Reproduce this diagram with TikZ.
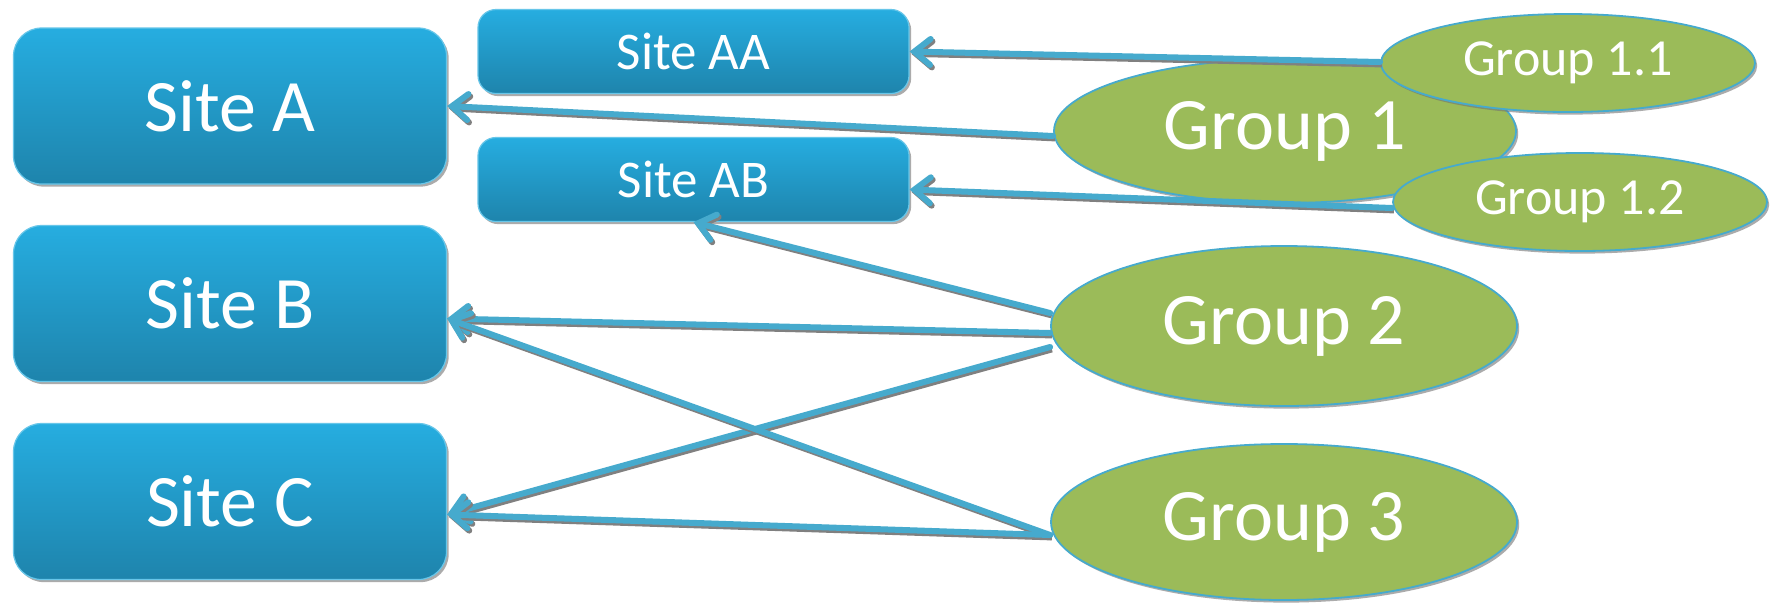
\documentclass[tikz,border=0pt]{standalone}
\usepackage{fontspec}
\setmainfont{Carlito}
\usetikzlibrary{shapes.geometric,arrows.meta,shadows}
\definecolor{boxtop}{RGB}{38,173,224}
\definecolor{boxbot}{RGB}{30,132,172}
\definecolor{grp}{RGB}{155,187,89}
\definecolor{lineblue}{RGB}{70,170,205}
\tikzset{
  shad/.style={drop shadow={shadow xshift=1.1pt,shadow yshift=-1.3pt,fill=black!55,opacity=0.6}},
  bigsite/.style={rectangle, rounded corners=14pt, top color=boxtop, bottom color=boxbot,
    draw=boxtop!70!white, line width=0.6pt, shad, text=white,
    minimum width=216.5pt, minimum height=78pt, inner sep=0pt,
    font=\fontsize{37}{40}\selectfont},
  smallsite/.style={rectangle, rounded corners=9pt, top color=boxtop, bottom color=boxbot,
    draw=boxtop!70!white, line width=0.6pt, shad, text=white,
    minimum width=215.5pt, minimum height=42pt, inner sep=0pt,
    font=\fontsize{26.5}{29}\selectfont},
  biggrp/.style={ellipse, fill=grp, draw=lineblue, line width=0.9pt, shad, text=white,
    minimum width=233pt, minimum height=78pt, inner sep=0pt,
    font=\fontsize{37}{40}\selectfont},
  smallgrp/.style={ellipse, fill=grp, draw=lineblue, line width=0.9pt, shad, text=white,
    minimum width=187pt, minimum height=49pt, inner sep=0pt,
    font=\fontsize{26}{29}\selectfont},
  conn/.style={draw=lineblue, line width=3pt, line cap=round,
    -{Straight Barb[length=8pt,width=13pt,line cap=round]},
    preaction={draw=black!50, line width=3pt, transform canvas={xshift=0.9pt,yshift=-1.2pt}}}
}
\begin{document}
\begin{tikzpicture}[x=0.5pt,y=-0.5pt]
\useasboundingbox[fill=white] (0,0) rectangle (1771,602);
% sites
\node[bigsite] (sa) at (230,106) {Site A};
\node[bigsite] (sb) at (230,303.5) {Site B};
\node[bigsite] (sc) at (230,501.5) {Site C};
\node[smallsite] (saa) at (693.5,51.5) {Site AA};
\node[smallsite] (sab) at (693.5,179.5) {Site AB};
% groups
\node[biggrp, minimum height=72pt, minimum width=231pt] (g1) at (1285,131) {Group 1};
\node[biggrp, minimum height=80pt] (g2) at (1284,326) {Group 2};
\node[biggrp] (g3) at (1284,522) {Group 3};
% connectors
\draw[conn] ([yshift=-2.5pt]g1.west) -- (sa.east);
\draw[conn] ([yshift=6.5pt]g2.west) -- (sab.south);
\draw[conn] ([yshift=-3.5pt]g2.west) -- ([yshift=-7.5pt]sb.east);
\draw[conn] ([yshift=-10.5pt]g2.west) -- ([yshift=-6.5pt]sc.east);
\draw[conn] ([yshift=-6.5pt]g3.west) -- ([yshift=-7.5pt]sb.east);
\draw[conn] ([yshift=-6.5pt]g3.west) -- ([yshift=-6.5pt]sc.east);
% sub groups
\node[smallgrp] (g11) at (1568,63) {Group 1.1};
\node[smallgrp] (g12) at (1580,202) {Group 1.2};
\draw[conn] ([yshift=0.5pt]g11.west) -- (saa.east);
\draw[conn] ([yshift=-3pt]g12.west) -- ([yshift=-5pt]sab.east);
\end{tikzpicture}
\end{document}
